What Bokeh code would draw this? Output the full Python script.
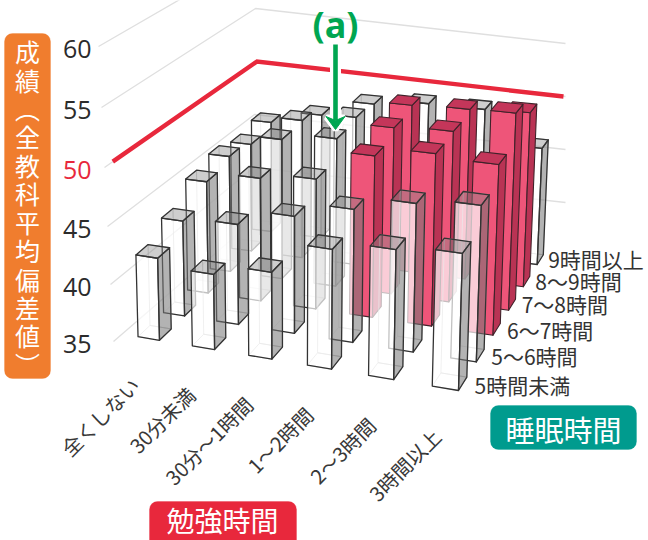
from bokeh.plotting import figure
from bokeh.models import Range1d, ColumnDataSource, BoxAnnotation
from bokeh.core.properties import value
from bokeh.embed import file_html
from bokeh.resources import INLINE
import math

# ---------- data ----------
study = ["全くしない", "30分未満", "30分～1時間", "1～2時間", "2～3時間", "3時間以上"]
sleep = ["5時間未満", "5～6時間", "6～7時間", "7～8時間", "8～9時間", "9時間以上"]
v_under5 = [42.6, 41.9, 42.9, 45.8, 46.6, 47.1]
v_5to6 = [44.0, 44.4, 45.9, 47.3, 48.6, 49.2]
v_6to7 = [45.8, 46.8, 47.4, 50.3, 51.2, 50.9]
v_7to8 = [46.4, 48.7, 49.4, 51.1, 51.4, 53.8]
v_8to9 = [45.8, 48.8, 49.7, 51.5, 51.7, 52.0]
v_over9 = [46.3, 47.6, 49.3, 49.9, 49.9, 46.6]
rows = [v_under5, v_5to6, v_6to7, v_7to8, v_8to9, v_over9]
y_ticks = [35, 40, 45, 50, 55, 60]
threshold = 50
base = 35

FONT = "Noto Sans CJK JP"
RED = "#E8283C"

# ---------- projection (oblique view of the 3-D box) ----------
Q00, Q10, Q11, Q01 = (159, 339.8), (458, 390), (536.7, 264), (271, 231)
def _homography():
    x0, y0 = Q00; x1, y1 = Q10; x2, y2 = Q11; x3, y3 = Q01
    dx1, dx2, sx = x1 - x2, x3 - x2, x0 - x1 + x2 - x3
    dy1, dy2, sy = y1 - y2, y3 - y2, y0 - y1 + y2 - y3
    d = dx1 * dy2 - dx2 * dy1
    g = (sx * dy2 - dx2 * sy) / d
    h = (dx1 * sy - sx * dy1) / d
    return (x1 - x0 + g * x1, x3 - x0 + h * x3, x0, y1 - y0 + g * y1, y3 - y0 + h * y3, y0, g, h)
H = _homography()

def floor(i, j):
    u, w = i / 5, j / 5
    a, b, c, d, e, f, g, h = H
    den = g * u + h * w + 1
    return (a * u + b * w + c) / den, (d * u + e * w + f) / den

def project(i, j, v):
    x0, y0 = floor(i, j)
    s = 10.8 + (y0 - 340) * 0.0105
    h = (v - base) * s
    return x0 + (x0 - 290) * 0.00017 * h, y0 - h

def wall_left(v):
    t = v - base
    return 113 - 0.6 * t, 341 - 11.3 * t - 0.02 * t * t
def wall_back(v):
    t = v - base
    return 253 + 0.1 * t, 220 - 10.6 * t
def wall_right(v):
    t = v - base
    return 565, 255 - 10.6 * t

# ---------- figure ----------
p = figure(width=648, height=540, x_range=Range1d(0, 648), y_range=Range1d(540, 0),
           output_backend="svg", toolbar_location=None, min_border=0)
p.axis.visible = False
p.grid.visible = False
p.outline_line_color = None
p.background_fill_color = "white"

# walls
for v in y_ticks:
    L, B, R = wall_left(v), wall_back(v), wall_right(v)
    if v == base:
        p.line([L[0], B[0]], [L[1], B[1]], line_color="#dfdfdf", line_width=1.3)
    else:
        p.line([L[0], B[0], R[0]], [L[1], B[1], R[1]], line_color="#dfdfdf", line_width=1.3)

# threshold line
L, B, R = wall_left(threshold), wall_back(threshold), wall_right(threshold)
p.line([L[0] + 0.055 * (B[0] - L[0]), B[0] + 2, R[0] - 2],
       [L[1] + 0.055 * (B[1] - L[1]), B[1], R[1]],
       line_color=RED, line_width=4.4, line_join="miter")

# bars
W, D = 0.40, 0.46
faces = dict(xs=[], ys=[], fc=[], fa=[], lc=[], la=[], lw=[])
def add(pts, fc, fa, lc, la, lw):
    faces["xs"].append([q[0] for q in pts]); faces["ys"].append([q[1] for q in pts])
    faces["fc"].append(fc); faces["fa"].append(fa)
    faces["lc"].append(lc); faces["la"].append(la); faces["lw"].append(lw)

for j in range(5, -1, -1):
    for i in range(6):
        v = rows[j][i]
        hot = v >= threshold
        FLb, FRb = project(i - W, j, base), project(i, j, base)
        BRb, BLb = project(i, j + D, base), project(i - W, j + D, base)
        FLt, FRt = project(i - W, j, v), project(i, j, v)
        BRt, BLt = project(i, j + D, v), project(i - W, j + D, v)
        if hot:
            add([FLt, FRt, FRb, FLb], "#EE5579", 1, "#40222a", 1, 1.1)
            add([FRt, BRt, BRb, FRb], "#B93354", 1, "#40222a", 1, 1.1)
            add([FLt, FRt, BRt, BLt], "#C4365A", 1, "#40222a", 1, 1.1)
        else:
            add([BLb, BLt, BRt, BRb], "#ffffff", 0.0, "#b8b8b8", 0.7, 1)
            add([FLb, BLb, BRb, FRb], "#ffffff", 0.0, "#b8b8b8", 0.7, 1)
            add([FLt, FRt, FRb, FLb], "#ffffff", 0.7, "#333333", 1, 1.3)
            add([FRt, BRt, BRb, FRb], "#757575", 0.55, "#333333", 1, 1.3)
            add([FLt, FRt, BRt, BLt], "#8a8a8a", 0.42, "#333333", 1, 1.3)

src = ColumnDataSource(faces)
p.patches("xs", "ys", source=src, fill_color="fc", fill_alpha="fa",
          line_color="lc", line_alpha="la", line_width="lw", line_join="round")

# arrow (a)
GREEN = "#00A651"
p.line([335, 335], [44, 118], line_color="white", line_width=11)
p.patches([[326, 335, 344, 338, 338, 332, 332]], [[117, 129, 117, 117, 110, 110, 117]],
          fill_color="white", line_color="white", line_width=6)
p.line([335, 335], [44, 120], line_color=GREEN, line_width=4.6)
p.patches([[325.5, 335, 344.5, 335]], [[116, 129, 116, 120]],
          fill_color=GREEN, line_color=GREEN, line_width=1)
p.text([335], [24], text=["(a)"], text_font=value("Noto Sans"), text_font_style="bold",
       text_font_size="36px", text_color=GREEN, text_align="center", text_baseline="middle")

# value ticks
p.text([91] * len(y_ticks), [wall_left(v)[1] + 2 for v in y_ticks], text=[str(v) for v in y_ticks],
       text_font=value("Open Sans"), text_font_size="25px",
       text_color=[RED if v == threshold else "#2b2b2b" for v in y_ticks],
       text_align="right", text_baseline="middle")

# study labels
for i, lab in enumerate(study):
    fx, fy = project(i, 0, base)
    p.text([fx - 24 + i * 0.5], [fy + 41 + i * 0.2], text=[lab], text_font=value(FONT), text_font_size="20px",
           text_color="#383838", angle=math.pi / 4, text_align="right", text_baseline="middle")

# sleep labels
for j, lab in enumerate(sleep):
    fx, fy = project(5, j, base)
    p.text([fx + 16 - j], [fy - 5.5 - 0.1 * j], text=[lab], text_font=value(FONT), text_font_size="21px",
           text_color="#333333", text_align="left", text_baseline="middle", text_font_style="normal")

# headers
def badge(l, r, t, b, color):
    p.add_layout(BoxAnnotation(left=l, right=r, top=t, bottom=b, fill_color=color, fill_alpha=1,
                               line_color=color, border_radius=8, level="underlay"))
badge(4, 50, 33, 378, "#F07D2E")
badge(490, 636, 405, 449, "#009B8E")
badge(149, 296, 501, 552, RED)

p.text([27], [207], text=["\n".join("成績︵全教科平均偏差値︶")], text_font=value(FONT), text_font_size="25px",
       text_color="white", text_align="center", text_baseline="middle", text_line_height=0.79)
p.text([563], [428], text=["睡眠時間"], text_font=value(FONT), text_font_size="29px",
       text_color="white", text_align="center", text_baseline="middle")
p.text([222], [519.5], text=["勉強時間"], text_font=value(FONT), text_font_size="28px",
       text_color="white", text_align="center", text_baseline="middle")

open("out.html", "w").write(file_html(p, INLINE))
